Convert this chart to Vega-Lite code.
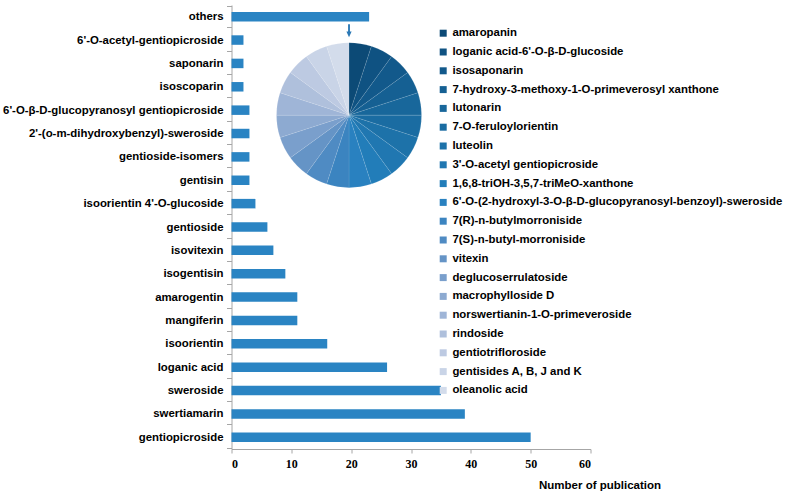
{
  "$schema": "https://vega.github.io/schema/vega-lite/v6.json",
  "width": 359,
  "height": 444,
  "autosize": {"type": "none"},
  "padding": {"left": 231.5, "top": 5, "right": 195.5, "bottom": 49},
  "background": "white",
  "config": {
    "view": {"stroke": null},
    "font": "Liberation Sans"
  },
  "datasets": {
    "bars": [
      {"compound": "others", "publications": 23},
      {"compound": "6'-O-acetyl-gentiopicroside", "publications": 2},
      {"compound": "saponarin", "publications": 2},
      {"compound": "isoscoparin", "publications": 2},
      {"compound": "6'-O-β-D-glucopyranosyl gentiopicroside", "publications": 3},
      {"compound": "2'-(o-m-dihydroxybenzyl)-sweroside", "publications": 3},
      {"compound": "gentioside-isomers", "publications": 3},
      {"compound": "gentisin", "publications": 3},
      {"compound": "isoorientin 4'-O-glucoside", "publications": 4},
      {"compound": "gentioside", "publications": 6},
      {"compound": "isovitexin", "publications": 7},
      {"compound": "isogentisin", "publications": 9},
      {"compound": "amarogentin", "publications": 11},
      {"compound": "mangiferin", "publications": 11},
      {"compound": "isoorientin", "publications": 16},
      {"compound": "loganic acid", "publications": 26},
      {"compound": "sweroside", "publications": 35},
      {"compound": "swertiamarin", "publications": 39},
      {"compound": "gentiopicroside", "publications": 50}
    ],
    "others": [
      {"name": "amaropanin", "n": 1, "idx": 1},
      {"name": "loganic acid-6'-O-β-D-glucoside", "n": 1, "idx": 2},
      {"name": "isosaponarin", "n": 1, "idx": 3},
      {"name": "7-hydroxy-3-methoxy-1-O-primeverosyl xanthone", "n": 1, "idx": 4},
      {"name": "lutonarin", "n": 1, "idx": 5},
      {"name": "7-O-feruloylorientin", "n": 1, "idx": 6},
      {"name": "luteolin", "n": 1, "idx": 7},
      {"name": "3'-O-acetyl gentiopicroside", "n": 1, "idx": 8},
      {"name": "1,6,8-triOH-3,5,7-triMeO-xanthone", "n": 1, "idx": 9},
      {"name": "6'-O-(2-hydroxyl-3-O-β-D-glucopyranosyl-benzoyl)-sweroside", "n": 1, "idx": 10},
      {"name": "7(R)-n-butylmorroniside", "n": 1, "idx": 11},
      {"name": "7(S)-n-butyl-morroniside", "n": 1, "idx": 12},
      {"name": "vitexin", "n": 1, "idx": 13},
      {"name": "deglucoserrulatoside", "n": 1, "idx": 14},
      {"name": "macrophylloside D", "n": 1, "idx": 15},
      {"name": "norswertianin-1-O-primeveroside", "n": 1, "idx": 16},
      {"name": "rindoside", "n": 1, "idx": 17},
      {"name": "gentiotrifloroside", "n": 1, "idx": 18},
      {"name": "gentisides A, B, J and K", "n": 1, "idx": 19},
      {"name": "oleanolic acid", "n": 1, "idx": 20}
    ]
  },
  "layer": [
    {
      "data": {"name": "bars"},
      "mark": {"type": "bar", "color": "#2a84c3", "size": 9.5},
      "encoding": {
        "x": {
          "field": "publications",
          "type": "quantitative",
          "scale": {"domain": [0, 60], "nice": false},
          "axis": {
            "values": [0, 10, 20, 30, 40, 50, 60],
            "grid": false,
            "title": "Number of publication",
            "titleFont": "Liberation Sans",
            "titleFontSize": 11.5,
            "titleFontWeight": "bold",
            "titleColor": "#000000",
            "titleAnchor": "start",
            "titleX": 307,
            "titleY": 30,
            "titleBaseline": "top",
            "labelFont": "Liberation Serif",
            "labelFontSize": 12,
            "labelFontWeight": "bold",
            "labelColor": "#000000",
            "labelPadding": 5,
            "domainColor": "#a6a6a6",
            "tickColor": "#a6a6a6",
            "tickSize": 4
          }
        },
        "y": {
          "field": "compound",
          "type": "nominal",
          "scale": {
            "domain": ["others", "6'-O-acetyl-gentiopicroside", "saponarin", "isoscoparin", "6'-O-β-D-glucopyranosyl gentiopicroside", "2'-(o-m-dihydroxybenzyl)-sweroside", "gentioside-isomers", "gentisin", "isoorientin 4'-O-glucoside", "gentioside", "isovitexin", "isogentisin", "amarogentin", "mangiferin", "isoorientin", "loganic acid", "sweroside", "swertiamarin", "gentiopicroside"]
          },
          "axis": {
            "title": null,
            "tickBand": "extent",
            "labelFont": "Liberation Sans",
            "labelFontSize": 11.4,
            "labelFontWeight": "bold",
            "labelColor": "#000000",
            "labelLimit": 300,
            "labelPadding": 3.5,
            "tickSize": 5,
            "domainColor": "#a6a6a6",
            "tickColor": "#a6a6a6"
          }
        }
      }
    },
    {
      "data": {"name": "others"},
      "mark": {"type": "arc", "outerRadius": 72.5, "yOffset": 5, "stroke": "#ffffff", "strokeWidth": 0.3, "strokeOpacity": 0.3},
      "encoding": {
        "x": {"datum": 19.64, "type": "quantitative"},
        "y": {"datum": "6'-O-β-D-glucopyranosyl gentiopicroside", "type": "nominal"},
        "theta": {"field": "n", "type": "quantitative", "stack": true},
        "order": {"field": "idx", "type": "quantitative"},
        "color": {
          "field": "name",
          "type": "nominal",
          "sort": null,
          "scale": {
            "domain": ["amaropanin", "loganic acid-6'-O-β-D-glucoside", "isosaponarin", "7-hydroxy-3-methoxy-1-O-primeverosyl xanthone", "lutonarin", "7-O-feruloylorientin", "luteolin", "3'-O-acetyl gentiopicroside", "1,6,8-triOH-3,5,7-triMeO-xanthone", "6'-O-(2-hydroxyl-3-O-β-D-glucopyranosyl-benzoyl)-sweroside", "7(R)-n-butylmorroniside", "7(S)-n-butyl-morroniside", "vitexin", "deglucoserrulatoside", "macrophylloside D", "norswertianin-1-O-primeveroside", "rindoside", "gentiotrifloroside", "gentisides A, B, J and K", "oleanolic acid"],
            "range": ["#0c4a76", "#0f5282", "#12598b", "#156093", "#18679b", "#1a6ca2", "#1d72a9", "#2077b1", "#227db9", "#2981c0", "#3b84c0", "#4f8bc3", "#6594c6", "#7a9fcc", "#8daad1", "#9fb5d7", "#afc0dc", "#bdcae2", "#c9d4e7", "#d3dceb"]
          },
          "legend": {
            "title": null,
            "orient": "none",
            "legendX": 206,
            "legendY": 22.5,
            "padding": 0,
            "symbolType": "square",
            "symbolSize": 49,
            "symbolStrokeWidth": 0,
            "labelFont": "Liberation Sans",
            "labelFontSize": 11.4,
            "labelFontWeight": "bold",
            "labelColor": "#000000",
            "labelLimit": 400,
            "labelOffset": 3.5,
            "rowPadding": 5.8
          }
        }
      }
    },
    {
      "data": {"values": [{"a": 1}]},
      "mark": {"type": "point", "shape": "arrow", "angle": 180, "size": 170, "filled": true, "color": "#2a78b5", "opacity": 1, "yOffset": 14},
      "encoding": {
        "x": {"datum": 19.64, "type": "quantitative"},
        "y": {"datum": "others", "type": "nominal"}
      }
    }
  ]
}
